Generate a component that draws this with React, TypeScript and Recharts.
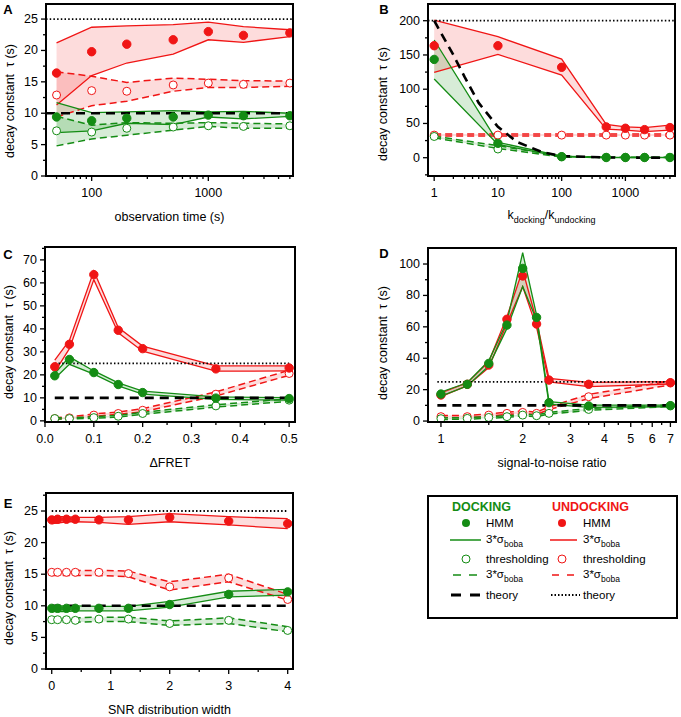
import React from "react";
import {
  ComposedChart, Line, Area, XAxis, YAxis, ReferenceLine,
} from "recharts";

// ---- colours / font ----
const RED = "#f01515";
const GREEN = "#148c14";
const FONT = '"Liberation Sans", Arial, sans-serif';
const FRAME = "#000";

// ---- A: observation time ----
const A_X = [50, 100, 200, 500, 1000, 2000, 5000];
const A_DOCK_HMM = [9.4, 8.8, 9.2, 9.4, 9.7, 9.6, 9.6];
const A_DOCK_HMM_HI = [11.7, 10.1, 10.2, 10.4, 10.2, 10.3, 10.0];
const A_DOCK_HMM_LO = [6.9, 7.2, 8.4, 8.2, 9.4, 9.1, 9.5];
const A_DOCK_THR = [7.2, 7.0, 7.6, 7.8, 8.0, 7.9, 8.0];
const A_DOCK_THR_HI = [9.5, 8.1, 8.5, 8.4, 8.5, 8.4, 8.3];
const A_DOCK_THR_LO = [4.8, 5.9, 6.5, 7.3, 7.9, 7.6, 7.6];
const A_UND_HMM = [16.4, 19.8, 21.0, 21.7, 23.0, 22.4, 22.8];
const A_UND_HMM_HI = [21.2, 23.7, 23.9, 24.1, 24.5, 23.8, 23.3];
const A_UND_HMM_LO = [11.3, 16.0, 18.0, 19.4, 21.7, 21.3, 22.2];
const A_UND_THR = [12.9, 13.6, 13.5, 14.5, 14.8, 14.6, 14.8];
const A_UND_THR_HI = [16.6, 15.9, 14.9, 15.6, 15.4, 15.2, 15.1];
const A_UND_THR_LO = [9.4, 11.2, 11.9, 13.5, 14.1, 14.1, 14.3];

// ---- B: kdocking / kundocking ----
const B_X = [1, 10, 100, 500, 1000, 2000, 5000];
const B_DOCK_HMM = [143.5, 21, 1.5, 0.3, 0.3, 0.3, 0.3];
const B_DOCK_HMM_HI = [171.8, 22.5, 2.4, 0.6, 0.6, 0.6, 0.6];
const B_DOCK_HMM_LO = [114.8, 19.5, 1.2, 0.1, 0.1, 0.1, 0.1];
const B_DOCK_THR = [31, 12.7, 1.5, 0.5, 0.5, 0.5, 0.5];
const B_DOCK_THR_HI = [31.5, 17.5, 2.2, 0.7, 0.7, 0.7, 0.7];
const B_DOCK_THR_LO = [29, 13.5, 1.0, 0.2, 0.2, 0.2, 0.2];
const B_UND_HMM = [163.5, 163.5, 132, 45, 43, 41, 44];
const B_UND_HMM_HI = [201, 176.6, 144, 48.7, 45, 44, 47.7];
const B_UND_HMM_LO = [124.6, 150.8, 120.7, 41.8, 40.4, 38, 40.4];
const B_UND_THR = [33, 33, 33, 33, 33, 33, 33];
const B_UND_THR_HI = [34.5, 34.5, 34.5, 34.5, 34.5, 34.5, 34.5];
const B_UND_THR_LO = [31.8, 31.8, 31.8, 31.8, 31.8, 31.8, 31.8];
const B_THEORY_X = [1, 2, 3, 5, 10, 20, 50, 100, 500, 5000];
const B_THEORY_DOCK = [200, 150, 118, 80, 45, 23, 8, 2.4, 0.3, 0];

// ---- C: ΔFRET ----
const C_X = [0.02, 0.05, 0.1, 0.15, 0.2, 0.35, 0.5];
const C_DOCK_HMM = [19.6, 26.7, 21, 15.8, 12.3, 9.9, 9.7];
const C_DOCK_HMM_HI = [20.6, 27.8, 21.7, 16.5, 12.9, 10.4, 10.1];
const C_DOCK_HMM_LO = [18.4, 24.6, 20.3, 15.2, 11.6, 9.3, 9.0];
const C_DOCK_THR = [1.0, 1.0, 1.4, 2.0, 3.2, 6.5, 9.0];
const C_DOCK_THR_HI = [1.3, 1.3, 1.8, 2.4, 3.7, 7.0, 9.6];
const C_DOCK_THR_LO = [0.8, 0.8, 1.1, 1.7, 2.8, 6.0, 8.5];
const C_UND_HMM = [23.5, 33.3, 63.6, 39.4, 31.4, 22.6, 23.0];
const C_UND_HMM_HI = [26.4, 35, 65.2, 40.6, 32.5, 23.9, 23.9];
const C_UND_HMM_LO = [21.3, 31.4, 61.4, 38.3, 30.3, 21.6, 21.7];
const C_UND_THR = [1.0, 1.3, 2.5, 3.2, 4.6, 11.6, 20.6];
const C_UND_THR_HI = [1.4, 1.7, 3.0, 3.8, 5.3, 12.6, 22.0];
const C_UND_THR_LO = [0.8, 1.0, 2.0, 2.8, 4.0, 10.8, 19.8];

// ---- D: signal-to-noise ratio ----
const D_X = [1, 1.25, 1.5, 1.75, 2, 2.25, 2.5, 3.5, 7];
const D_DOCK_HMM = [17.2, 23.4, 36.7, 61.1, 97.2, 66, 11.7, 9.6, 9.8];
const D_DOCK_HMM_HI = [18.5, 24.4, 38.4, 63.3, 107.2, 67.5, 12.3, 10.2, 10.2];
const D_DOCK_HMM_LO = [15.9, 22.3, 35, 59, 85.6, 64.3, 10.8, 8.7, 9.1];
const D_DOCK_THR = [1.5, 1.7, 2.3, 2.8, 3.8, 3.4, 4.9, 7.4, 9.8];
const D_DOCK_THR_HI = [2.0, 2.2, 2.8, 3.3, 4.3, 3.9, 5.5, 8.0, 10.3];
const D_DOCK_THR_LO = [1.0, 1.2, 1.8, 2.3, 3.3, 2.9, 4.4, 6.8, 9.3];
const D_UND_HMM = [16.6, 23.4, 35.7, 64.8, 92.4, 61.8, 26.1, 23.4, 24.4];
const D_UND_HMM_HI = [18, 24.4, 37.8, 66.5, 96.2, 63.9, 27.2, 24.6, 25.1];
const D_UND_HMM_LO = [15.5, 22.5, 34, 62.2, 85.6, 59.7, 25, 21.9, 23.6];
const D_UND_THR = [2.8, 2.8, 3.8, 4.9, 5.5, 4.9, 8.1, 15.5, 24.4];
const D_UND_THR_HI = [3.5, 3.5, 4.6, 5.7, 6.4, 5.7, 9.0, 17.0, 25.5];
const D_UND_THR_LO = [2.2, 2.2, 3.1, 4.2, 4.7, 4.2, 7.3, 14.3, 23.0];

// ---- E: SNR distribution width ----
const E_X = [0, 0.1, 0.25, 0.4, 0.8, 1.3, 2, 3, 4];
const E_DOCK_HMM = [9.6, 9.6, 9.6, 9.6, 9.6, 9.6, 10.2, 11.8, 12.2];
const E_DOCK_HMM_HI = [10.0, 10.0, 10.0, 10.0, 9.9, 9.9, 10.7, 12.3, 12.6];
const E_DOCK_HMM_LO = [9.1, 9.1, 9.1, 9.2, 9.2, 9.2, 9.8, 11.4, 11.7];
const E_DOCK_THR = [7.8, 7.8, 7.8, 7.7, 7.9, 7.9, 7.2, 7.7, 6.1];
const E_DOCK_THR_HI = [8.1, 8.1, 8.1, 8.1, 8.2, 8.2, 7.6, 8.1, 6.7];
const E_DOCK_THR_LO = [7.4, 7.4, 7.4, 7.4, 7.5, 7.5, 6.9, 7.2, 5.9];
const E_UND_HMM = [23.6, 23.7, 23.7, 23.7, 23.6, 23.6, 24.0, 23.4, 23.0];
const E_UND_HMM_HI = [24.1, 24.1, 24.1, 24.0, 24.0, 24.1, 24.6, 24.1, 23.8];
const E_UND_HMM_LO = [23.0, 23.1, 23.3, 23.3, 23.2, 22.9, 23.3, 22.8, 22.2];
const E_UND_THR = [15.3, 15.3, 15.3, 15.3, 15.3, 15.1, 13.0, 14.4, 11.0];
const E_UND_THR_HI = [15.6, 15.6, 15.6, 15.6, 15.6, 15.5, 13.8, 15.0, 11.8];
const E_UND_THR_LO = [14.8, 14.8, 14.8, 14.8, 14.8, 14.6, 12.5, 13.8, 10.9];

// ---- theory ----
const THEORY_DOCK = 10;
const THEORY_UND = 25;
const B_THEORY_UND = 200;

// ---- ticks ----
const A_X_MAJOR = [100, 1000];
const A_X_MINOR = [50, 60, 70, 80, 90, 200, 300, 400, 500, 600, 700, 800, 900, 2000, 3000, 4000, 5000];
const A_Y_MAJOR = [0, 5, 10, 15, 20, 25];
const A_Y_MINOR = [2.5, 7.5, 12.5, 17.5, 22.5];
const B_X_MAJOR = [1, 10, 100, 1000];
const B_X_MINOR = [2, 3, 4, 5, 6, 7, 8, 9, 20, 30, 40, 50, 60, 70, 80, 90, 200, 300, 400, 500, 600, 700, 800, 900, 2000, 3000, 4000, 5000];
const B_Y_MAJOR = [0, 50, 100, 150, 200];
const B_Y_MINOR = [-25, 25, 75, 125, 175];
const C_X_MAJOR = [0, 0.1, 0.2, 0.3, 0.4, 0.5];
const C_X_MINOR = [0.05, 0.15, 0.25, 0.35, 0.45];
const C_Y_MAJOR = [0, 10, 20, 30, 40, 50, 60, 70];
const C_Y_MINOR = [5, 15, 25, 35, 45, 55, 65, 75];
const D_X_MAJOR = [1, 2, 3, 4, 5, 6, 7];
const D_X_MINOR = [1.5, 2.5, 3.5, 4.5, 5.5, 6.5];
const D_Y_MAJOR = [0, 20, 40, 60, 80, 100];
const D_Y_MINOR = [10, 30, 50, 70, 90];
const E_X_MAJOR = [0, 1, 2, 3, 4];
const E_X_MINOR = [0.5, 1.5, 2.5, 3.5];
const E_Y_MAJOR = [0, 5, 10, 15, 20, 25];
const E_Y_MINOR = [2.5, 7.5, 12.5, 17.5, 22.5, 27.5];

type Band = { hmm: number[]; hmmHi: number[]; hmmLo: number[]; thr: number[]; thrHi: number[]; thrLo: number[] };

const band = (hmm: number[], hmmHi: number[], hmmLo: number[], thr: number[], thrHi: number[], thrLo: number[]): Band =>
  ({ hmm, hmmHi, hmmLo, thr, thrHi, thrLo });

const buildRows = (xs: number[], dock: Band, und: Band) =>
  xs.map((x, i) => ({
    x,
    dH: dock.hmm[i], dHHi: dock.hmmHi[i], dHLo: dock.hmmLo[i], dHBand: [dock.hmmLo[i], dock.hmmHi[i]],
    dT: dock.thr[i], dTHi: dock.thrHi[i], dTLo: dock.thrLo[i], dTBand: [dock.thrLo[i], dock.thrHi[i]],
    uH: und.hmm[i], uHHi: und.hmmHi[i], uHLo: und.hmmLo[i], uHBand: [und.hmmLo[i], und.hmmHi[i]],
    uT: und.thr[i], uTHi: und.thrHi[i], uTLo: und.thrLo[i], uTBand: [und.thrLo[i], und.thrHi[i]],
  }));

const A_ROWS = buildRows(A_X,
  band(A_DOCK_HMM, A_DOCK_HMM_HI, A_DOCK_HMM_LO, A_DOCK_THR, A_DOCK_THR_HI, A_DOCK_THR_LO),
  band(A_UND_HMM, A_UND_HMM_HI, A_UND_HMM_LO, A_UND_THR, A_UND_THR_HI, A_UND_THR_LO));
const B_ROWS = buildRows(B_X,
  band(B_DOCK_HMM, B_DOCK_HMM_HI, B_DOCK_HMM_LO, B_DOCK_THR, B_DOCK_THR_HI, B_DOCK_THR_LO),
  band(B_UND_HMM, B_UND_HMM_HI, B_UND_HMM_LO, B_UND_THR, B_UND_THR_HI, B_UND_THR_LO));
const C_ROWS = buildRows(C_X,
  band(C_DOCK_HMM, C_DOCK_HMM_HI, C_DOCK_HMM_LO, C_DOCK_THR, C_DOCK_THR_HI, C_DOCK_THR_LO),
  band(C_UND_HMM, C_UND_HMM_HI, C_UND_HMM_LO, C_UND_THR, C_UND_THR_HI, C_UND_THR_LO));
const D_ROWS = buildRows(D_X,
  band(D_DOCK_HMM, D_DOCK_HMM_HI, D_DOCK_HMM_LO, D_DOCK_THR, D_DOCK_THR_HI, D_DOCK_THR_LO),
  band(D_UND_HMM, D_UND_HMM_HI, D_UND_HMM_LO, D_UND_THR, D_UND_THR_HI, D_UND_THR_LO));
const E_ROWS = buildRows(E_X,
  band(E_DOCK_HMM, E_DOCK_HMM_HI, E_DOCK_HMM_LO, E_DOCK_THR, E_DOCK_THR_HI, E_DOCK_THR_LO),
  band(E_UND_HMM, E_UND_HMM_HI, E_UND_HMM_LO, E_UND_THR, E_UND_THR_HI, E_UND_THR_LO));
const B_THEORY_ROWS = B_THEORY_X.map((x, i) => ({ x, t: B_THEORY_DOCK[i] }));

// ---- tick renderers ----
const makeYTick = (major: number[], side: "left" | "right") => (p: any) => {
  const v = p.payload.value;
  const x = Number(p.x);
  const y = Number(p.y);
  const isMaj = major.includes(v);
  const len = isMaj ? 5 : 3;
  if (side === "right") {
    return <line x1={x} x2={x - len} y1={y} y2={y} stroke="#000" strokeWidth={1.3} />;
  }
  return (
    <g>
      <line x1={x} x2={x - len} y1={y} y2={y} stroke="#000" strokeWidth={1.3} />
      {isMaj && (
        <text x={x - 8} y={y} textAnchor="end" dominantBaseline="central" fontSize={12.5} fontFamily={FONT} fill="#000">
          {v}
        </text>
      )}
    </g>
  );
};

const makeXTick = (major: number[], fmt: (v: number) => string) => (p: any) => {
  const v = p.payload.value;
  const x = Number(p.x);
  const y = Number(p.y);
  const isMaj = major.includes(v);
  return (
    <g>
      <line x1={x} x2={x} y1={y} y2={y + (isMaj ? 5 : 3)} stroke="#000" strokeWidth={1.3} />
      {isMaj && (
        <text x={x} y={y + 17} textAnchor="middle" dominantBaseline="central" fontSize={12.5} fontFamily={FONT} fill="#000">
          {fmt(v)}
        </text>
      )}
    </g>
  );
};

type Box = { x: number; y: number; w: number; h: number };

type PanelProps = {
  letter: string;
  box: Box;
  xDomain: [number, number];
  yDomain: [number, number];
  log?: boolean;
  xMajor: number[]; xMinor: number[];
  yMajor: number[]; yMinor: number[];
  xFmt?: (v: number) => string;
  rows: any[];
  undTheory: number;
  theorySpan?: [number, number];
  dockCurve?: { x: number; t: number }[];
  xTitle: React.ReactNode;
  letterPos: [number, number];
  yTitlePos: [number, number];
};

const centered = (x: number, y: number): React.CSSProperties => ({
  position: "absolute",
  left: x,
  top: y,
  transform: "translate(-50%, -50%)",
  whiteSpace: "nowrap",
  lineHeight: 1,
});

function Panel(props: PanelProps) {
  const { box, xDomain, yDomain, rows } = props;
  const fmt = props.xFmt ?? ((v: number) => String(v));
  const thin = 1.3;
  const dash = "7 4";
  const span = props.theorySpan;
  const yTicks = [...props.yMajor, ...props.yMinor];

  return (
    <>
      <div style={{ position: "absolute", left: box.x - 45, top: box.y - 5 }}>
        <ComposedChart
          width={box.w + 55}
          height={box.h + 35}
          data={rows}
          margin={{ top: 5, right: 10, bottom: 0, left: 5 }}
        >
          <XAxis
            dataKey="x"
            type="number"
            scale={props.log ? "log" : "linear"}
            domain={xDomain}
            allowDataOverflow
            ticks={[...props.xMajor, ...props.xMinor]}
            interval={0}
            tickLine={false}
            axisLine={false}
            tickSize={0}
            tickMargin={0}
            height={30}
            tick={makeXTick(props.xMajor, fmt)}
          />
          <YAxis
            type="number"
            domain={yDomain}
            allowDataOverflow
            ticks={yTicks}
            interval={0}
            tickLine={false}
            axisLine={false}
            tickSize={0}
            tickMargin={0}
            width={40}
            tick={makeYTick(props.yMajor, "left")}
          />
          <YAxis
            yAxisId="mirror"
            orientation="right"
            mirror
            type="number"
            domain={yDomain}
            allowDataOverflow
            ticks={yTicks}
            interval={0}
            tickLine={false}
            axisLine={false}
            tickSize={0}
            tickMargin={0}
            width={0}
            tick={makeYTick(props.yMajor, "right")}
          />

          {/* bands */}
          <Area dataKey="uHBand" stroke="none" fill={RED} fillOpacity={0.15} isAnimationActive={false} />
          <Area dataKey="uTBand" stroke="none" fill={RED} fillOpacity={0.15} isAnimationActive={false} />
          <Area dataKey="dHBand" stroke="none" fill={GREEN} fillOpacity={0.17} isAnimationActive={false} />
          <Area dataKey="dTBand" stroke="none" fill={GREEN} fillOpacity={0.17} isAnimationActive={false} />

          {/* band edges */}
          <Line dataKey="uHHi" stroke={RED} strokeWidth={thin} dot={false} activeDot={false} isAnimationActive={false} />
          <Line dataKey="uHLo" stroke={RED} strokeWidth={thin} dot={false} activeDot={false} isAnimationActive={false} />
          <Line dataKey="uTHi" stroke={RED} strokeWidth={1.5} strokeDasharray={dash} dot={false} activeDot={false} isAnimationActive={false} />
          <Line dataKey="uTLo" stroke={RED} strokeWidth={1.5} strokeDasharray={dash} dot={false} activeDot={false} isAnimationActive={false} />
          <Line dataKey="dHHi" stroke={GREEN} strokeWidth={thin} dot={false} activeDot={false} isAnimationActive={false} />
          <Line dataKey="dHLo" stroke={GREEN} strokeWidth={thin} dot={false} activeDot={false} isAnimationActive={false} />
          <Line dataKey="dTHi" stroke={GREEN} strokeWidth={1.5} strokeDasharray={dash} dot={false} activeDot={false} isAnimationActive={false} />
          <Line dataKey="dTLo" stroke={GREEN} strokeWidth={1.5} strokeDasharray={dash} dot={false} activeDot={false} isAnimationActive={false} />

          {/* theory */}
          {props.dockCurve ? (
            <Line
              data={props.dockCurve}
              dataKey="t"
              stroke="#000"
              strokeWidth={2.6}
              strokeDasharray="9 6"
              dot={false}
              activeDot={false}
              isAnimationActive={false}
            />
          ) : span ? (
            <ReferenceLine
              segment={[{ x: span[0], y: THEORY_DOCK }, { x: span[1], y: THEORY_DOCK }]}
              stroke="#000"
              strokeWidth={2.6}
              strokeDasharray="9 6"
            />
          ) : (
            <ReferenceLine y={THEORY_DOCK} stroke="#000" strokeWidth={2.6} strokeDasharray="9 6" />
          )}
          {span ? (
            <ReferenceLine
              segment={[{ x: span[0], y: props.undTheory }, { x: span[1], y: props.undTheory }]}
              stroke="#000"
              strokeWidth={1.8}
              strokeDasharray="1.5 2.2"
            />
          ) : (
            <ReferenceLine y={props.undTheory} stroke="#000" strokeWidth={1.8} strokeDasharray="1.5 2.2" />
          )}

          {/* markers */}
          <Line dataKey="uT" stroke="none" dot={{ r: 4, fill: "#fff", stroke: RED, strokeWidth: 1 }} activeDot={false} isAnimationActive={false} />
          <Line dataKey="dT" stroke="none" dot={{ r: 4, fill: "#fff", stroke: GREEN, strokeWidth: 1 }} activeDot={false} isAnimationActive={false} />
          <Line dataKey="uH" stroke="none" dot={{ r: 4.2, fill: RED, stroke: RED, strokeWidth: 1 }} activeDot={false} isAnimationActive={false} />
          <Line dataKey="dH" stroke="none" dot={{ r: 4.2, fill: GREEN, stroke: GREEN, strokeWidth: 1 }} activeDot={false} isAnimationActive={false} />
        </ComposedChart>
      </div>

      {/* plot frame */}
      <svg
        style={{ position: "absolute", left: box.x - 2, top: box.y - 2, pointerEvents: "none" }}
        width={box.w + 4}
        height={box.h + 4}
      >
        <rect x={2} y={2} width={box.w} height={box.h} fill="none" stroke={FRAME} strokeWidth={2} />
      </svg>

      <div style={{ ...centered(props.letterPos[0], props.letterPos[1]), fontWeight: "bold", fontSize: 13 }}>
        {props.letter}
      </div>
      <div
        style={{
          ...centered(props.yTitlePos[0], props.yTitlePos[1]),
          transform: "translate(-50%, -50%) rotate(-90deg)",
          fontSize: 12.5,
        }}
      >
        decay constant&nbsp; τ (s)
      </div>
      <div style={{ ...centered(box.x + box.w / 2, box.y + box.h + 41), fontSize: 12.5 }}>
        {props.xTitle}
      </div>
    </>
  );
}

// ---- legend ----
function LegendBox() {
  const t = { fontSize: 11.5, fontFamily: FONT, dominantBaseline: "central" as const, fill: "#000" };
  return (
    <svg style={{ position: "absolute", left: 427, top: 495 }} width={252} height={125}>
      <rect x={1} y={1} width={249} height={122} fill="#fff" stroke="#000" strokeWidth={2} />
      <text x={25} y={12} {...t} fill={GREEN} fontWeight="bold" fontSize={12.5}>DOCKING</text>
      <text x={125} y={12} {...t} fill={RED} fontWeight="bold" fontSize={12.5}>UNDOCKING</text>

      <circle cx={39} cy={28} r={4} fill={GREEN} />
      <text x={59} y={28} {...t}>HMM</text>
      <circle cx={135} cy={28} r={4} fill={RED} />
      <text x={156} y={28} {...t}>HMM</text>

      <line x1={23} x2={54} y1={45} y2={45} stroke={GREEN} strokeWidth={1.5} />
      <text x={59} y={44} {...t}>3*σ<tspan fontSize={8.5} dy={5}>boba</tspan></text>
      <line x1={123} x2={150} y1={45} y2={45} stroke={RED} strokeWidth={1.5} />
      <text x={156} y={44} {...t}>3*σ<tspan fontSize={8.5} dy={5}>boba</tspan></text>

      <circle cx={39} cy={64} r={4} fill="#fff" stroke={GREEN} strokeWidth={1} />
      <text x={59} y={64} {...t}>thresholding</text>
      <circle cx={135} cy={64} r={4} fill="#fff" stroke={RED} strokeWidth={1} />
      <text x={156} y={64} {...t}>thresholding</text>

      <line x1={26} x2={50} y1={80} y2={80} stroke={GREEN} strokeWidth={1.5} strokeDasharray="8 8" />
      <text x={59} y={79} {...t}>3*σ<tspan fontSize={8.5} dy={5}>boba</tspan></text>
      <line x1={125} x2={147} y1={80} y2={80} stroke={RED} strokeWidth={1.5} strokeDasharray="7 8" />
      <text x={156} y={79} {...t}>3*σ<tspan fontSize={8.5} dy={5}>boba</tspan></text>

      <line x1={24} x2={53} y1={100} y2={100} stroke="#000" strokeWidth={2.8} strokeDasharray="10 9" />
      <text x={59} y={100} {...t}>theory</text>
      <line x1={124} x2={153} y1={100} y2={100} stroke="#000" strokeWidth={1.8} strokeDasharray="1.5 2" />
      <text x={156} y={100} {...t}>theory</text>
    </svg>
  );
}

export default function App() {
  return (
    <div
      style={{
        position: "fixed",
        left: 0,
        top: 0,
        width: 681,
        height: 717,
        background: "#fff",
        fontFamily: FONT,
        color: "#000",
        overflow: "hidden",
      }}
    >
      <Panel
        letter="A"
        box={{ x: 46, y: 4, w: 247, h: 172 }}
        xDomain={[40.6, 5320]}
        yDomain={[0, 27.4]}
        log
        xMajor={A_X_MAJOR}
        xMinor={A_X_MINOR}
        yMajor={A_Y_MAJOR}
        yMinor={A_Y_MINOR}
        rows={A_ROWS}
        undTheory={THEORY_UND}
        xTitle="observation time (s)"
        letterPos={[8, 9]}
        yTitlePos={[10, 101]}
      />
      <Panel
        letter="B"
        box={{ x: 428, y: 4, w: 247, h: 172 }}
        xDomain={[0.8, 6000]}
        yDomain={[-26.7, 224.4]}
        log
        xMajor={B_X_MAJOR}
        xMinor={B_X_MINOR}
        yMajor={B_Y_MAJOR}
        yMinor={B_Y_MINOR}
        rows={B_ROWS}
        undTheory={B_THEORY_UND}
        dockCurve={B_THEORY_ROWS}
        xTitle={
          <span>
            k<sub style={{ fontSize: 9 }}>docking</sub>/k<sub style={{ fontSize: 9 }}>undocking</sub>
          </span>
        }
        letterPos={[384, 9]}
        yTitlePos={[383, 104]}
      />
      <Panel
        letter="C"
        box={{ x: 45, y: 247, w: 250, h: 175 }}
        xDomain={[0, 0.512]}
        yDomain={[-0.5, 75.6]}
        xMajor={C_X_MAJOR}
        xMinor={C_X_MINOR}
        yMajor={C_Y_MAJOR}
        yMinor={C_Y_MINOR}
        xFmt={(v) => v.toFixed(1)}
        rows={C_ROWS}
        undTheory={THEORY_UND}
        theorySpan={[0.02, 0.5]}
        xTitle="ΔFRET"
        letterPos={[8, 254]}
        yTitlePos={[9, 342]}
      />
      <Panel
        letter="D"
        box={{ x: 428, y: 248, w: 248, h: 174 }}
        xDomain={[0.896, 7.34]}
        yDomain={[-0.6, 110.2]}
        log
        xMajor={D_X_MAJOR}
        xMinor={D_X_MINOR}
        yMajor={D_Y_MAJOR}
        yMinor={D_Y_MINOR}
        rows={D_ROWS}
        undTheory={THEORY_UND}
        theorySpan={[0.97, 7]}
        xTitle="signal-to-noise ratio"
        letterPos={[384, 253]}
        yTitlePos={[383, 343]}
      />
      <Panel
        letter="E"
        box={{ x: 46, y: 493, w: 247, h: 176 }}
        xDomain={[-0.097, 4.09]}
        yDomain={[0, 27.85]}
        xMajor={E_X_MAJOR}
        xMinor={E_X_MINOR}
        yMajor={E_Y_MAJOR}
        yMinor={E_Y_MINOR}
        rows={E_ROWS}
        undTheory={THEORY_UND}
        theorySpan={[0, 4]}
        xTitle="SNR distribution width"
        letterPos={[8, 503]}
        yTitlePos={[9, 588]}
      />
      <LegendBox />
    </div>
  );
}
